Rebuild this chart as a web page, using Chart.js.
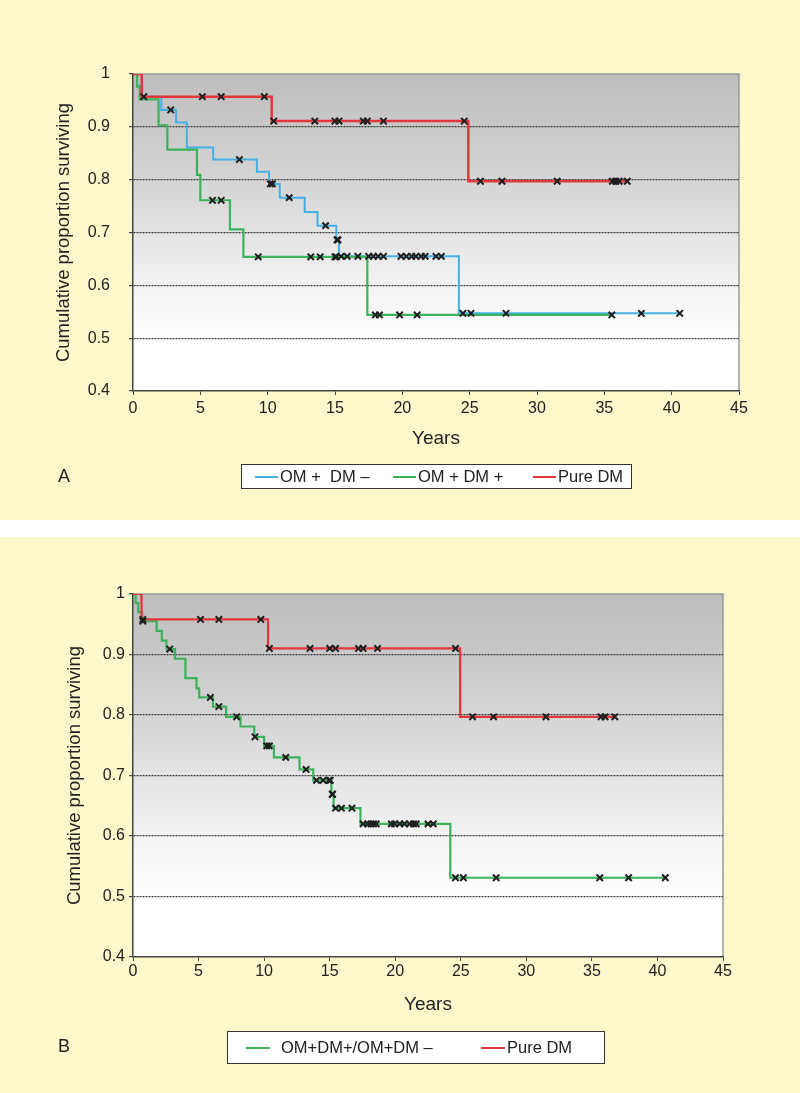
<!DOCTYPE html>
<html>
<head>
<meta charset="utf-8">
<script src="https://cdn.jsdelivr.net/npm/chart.js@4.4.1/dist/chart.umd.min.js"></script>
<style>
  body { margin: 0; width: 800px; height: 1093px; background: #fff; position: relative;
         font-family: 'Liberation Sans', Arial, sans-serif; color: #222; }
  .panel { position: absolute; left: 0; width: 800px; background: #fbf8cc; }
  #panelA { top: 0; height: 520px; }
  #panelB { top: 537px; height: 556px; }
  .panel canvas { position: absolute; left: 0; top: 0; }
  .tag { position: absolute; left: 58px; font-size: 18px; line-height: 18px; }
  .legend { position: absolute; background: #fff; border: 1px solid #333; box-sizing: border-box; }
  .legend .item { position: absolute; top: 0; height: 100%; display: flex; align-items: center;
                  font-size: 16.5px; white-space: pre; }
  .legend .swatch { display: inline-block; height: 2px; margin-right: 2px; }
</style>
</head>
<body>
<div class="panel" id="panelA"><canvas id="chartA" width="800" height="520"></canvas></div>
<div class="panel" id="panelB"><canvas id="chartB" width="800" height="556"></canvas></div>
<script>
// ─── axis ticks ────────────────────────────────────────────────
const yearTicks = [0, 5, 10, 15, 20, 25, 30, 35, 40, 45];
const survivalTicks = [0.4, 0.5, 0.6, 0.7, 0.8, 0.9, 1];

// ─── panel A: OM + DM – ────────────────────────────────────────
const aOmDmNegLabel = 'OM +\u00a0 DM –';
const aOmDmNegTimes = [0.3, 0.6, 2.1, 3.2, 4.0, 5.95, 9.2, 10.1, 10.9, 12.75, 13.7, 15.1, 15.3, 24.2];
const aOmDmNegSurv = [0.978, 0.957, 0.932, 0.908, 0.861, 0.838, 0.815, 0.792, 0.766, 0.739, 0.713, 0.686, 0.655, 0.547];
const aOmDmNegCensored = [2.8, 7.9, 10.2, 10.35, 11.6, 14.3, 15.15, 15.22, 15.45, 15.9, 16.7, 17.5, 17.85, 18.2, 18.6,
  19.9, 20.3, 20.7, 21.0, 21.4, 21.7, 22.5, 22.9, 24.5, 25.1, 27.7, 37.75, 40.6];

// ─── panel A: OM + DM + ────────────────────────────────────────
const aOmDmPosLabel = 'OM + DM +';
const aOmDmPosTimes = [0.3, 0.5, 1.9, 2.55, 4.75, 5.0, 7.2, 8.2, 17.4];
const aOmDmPosSurv = [0.976, 0.952, 0.903, 0.857, 0.809, 0.761, 0.706, 0.654, 0.544];
const aOmDmPosCensored = [5.9, 6.55, 9.3, 13.2, 13.9, 15.0, 15.1, 18.0, 18.3, 19.8, 21.1, 35.55];

// ─── panel A: Pure DM ──────────────────────────────────────────
const aPureDmLabel = 'Pure DM';
const aPureDmTimes = [0.65, 10.3, 24.9];
const aPureDmSurv = [0.957, 0.911, 0.797];
const aPureDmCensored = [0.8, 5.15, 6.55, 9.75, 10.45, 13.5, 15.0, 15.3, 17.1, 17.4, 18.6, 24.6,
  25.8, 27.4, 31.5, 35.6, 35.85, 36.1, 36.7];

// ─── panel B: OM+DM+/OM+DM – ───────────────────────────────────
const bOmLabel = 'OM+DM+/OM+DM –';
const bOmTimes = [0.2, 0.4, 0.7, 1.8, 2.2, 2.55, 3.2, 4.0, 4.85, 5.05, 6.1, 7.1, 8.2, 9.25, 10.0, 10.75,
  12.7, 13.75, 15.13, 15.3, 17.35, 24.2];
const bOmSurv = [0.985, 0.97, 0.955, 0.939, 0.923, 0.909, 0.893, 0.861, 0.844, 0.829, 0.814, 0.797, 0.781,
  0.764, 0.749, 0.730, 0.710, 0.692, 0.669, 0.646, 0.620, 0.531];
const bOmCensored = [0.75, 2.8, 5.9, 6.55, 7.9, 9.3, 10.2, 10.4, 11.65, 13.2, 14.0, 14.5, 14.95, 15.05, 15.2, 15.22,
  15.45, 15.9, 16.7, 17.55, 17.9, 18.15, 18.35, 18.55, 19.7, 19.95, 20.35, 20.7, 21.1, 21.4, 21.6,
  22.5, 22.9, 24.6, 25.2, 27.7, 35.6, 37.8, 40.6];

// ─── panel B: Pure DM ──────────────────────────────────────────
const bPureDmLabel = 'Pure DM';
const bPureDmTimes = [0.65, 10.3, 24.95];
const bPureDmSurv = [0.958, 0.910, 0.797];
const bPureDmCensored = [0.75, 5.15, 6.55, 9.75, 10.4, 13.5, 15.0, 15.45, 17.2, 17.55, 18.65, 24.6,
  25.9, 27.5, 31.5, 35.7, 36.0, 36.75];

const BLUE = '#45b1e3';
const GREEN = '#3bb35b';
const RED = '#e2363c';
const FONT = "'Liberation Sans', Arial, sans-serif";

// ─── helpers ───────────────────────────────────────────────────
function survivalAt(times, surv, t) {
  let s = 1;
  times.forEach((et, i) => { if (et <= t) s = surv[i]; });
  return s;
}

function kmDatasets(label, times, surv, censored, color, width) {
  const end = Math.max(times[times.length - 1], ...censored);
  const line = [{ x: 0, y: 1 }]
    .concat(times.map((t, i) => ({ x: t, y: surv[i] })))
    .concat([{ x: end, y: surv[surv.length - 1] }]);
  return [
    {
      label,
      data: line,
      showLine: true,
      stepped: 'before',
      borderColor: color,
      borderWidth: width,
      pointRadius: 0,
      order: 2,
    },
    {
      label: label + ' censored',
      data: censored.map(t => ({ x: t, y: survivalAt(times, surv, t) })),
      pointStyle: 'crossRot',
      pointRadius: 4.5,
      borderColor: '#1e1e1e',
      backgroundColor: '#1e1e1e',
      pointBorderWidth: 2,
      order: 1,
    },
  ];
}

// gradient plot background + grey frame on top/right
const plotBackground = {
  id: 'plotBackground',
  beforeDraw(chart) {
    const { ctx, chartArea: a, scales } = chart;
    const y50 = scales.y.getPixelForValue(0.5);
    const g = ctx.createLinearGradient(0, a.top, 0, y50);
    g.addColorStop(0, '#bdbdbd');
    g.addColorStop(0.45, '#d8d8d8');
    g.addColorStop(0.8, '#f3f3f3');
    g.addColorStop(1, '#ffffff');
    ctx.save();
    ctx.fillStyle = g;
    ctx.fillRect(a.left, a.top, a.right - a.left, a.bottom - a.top);
    ctx.strokeStyle = '#9a9a9a';
    ctx.lineWidth = 1.5;
    ctx.beginPath();
    ctx.moveTo(a.left, a.top);
    ctx.lineTo(a.right, a.top);
    ctx.lineTo(a.right, a.bottom);
    ctx.stroke();
    ctx.restore();
  },
};

function makeChart(canvasId, datasets, geo) {
  const ctx = document.getElementById(canvasId);
  return new Chart(ctx, {
    type: 'scatter',
    data: { datasets },
    options: {
      responsive: false,
      animation: false,
      layout: { padding: { left: 0, top: geo.top, right: geo.right, bottom: geo.bottom } },
      plugins: { legend: { display: false }, tooltip: { enabled: false } },
      scales: {
        x: {
          type: 'linear',
          min: 0,
          max: 45,
          afterBuildTicks: (s) => { s.ticks = yearTicks.map(v => ({ value: v })); },
          afterFit: (s) => { s.height = 59; },
          grid: { drawOnChartArea: false, drawTicks: true, tickLength: 4, tickColor: '#444' },
          border: { color: '#444', width: 1.5 },
          ticks: { color: '#222', font: { family: FONT, size: 16 }, padding: geo.xTickPad, maxRotation: 0 },
          title: { display: true, text: 'Years', color: '#222', font: { family: FONT, size: 19 }, padding: 0 },
        },
        y: {
          type: 'linear',
          min: 0.4,
          max: 1,
          afterBuildTicks: (s) => { s.ticks = survivalTicks.map(v => ({ value: v })); },
          afterFit: (s) => { s.width = 133; },
          grid: {
            color: (c) => (c.tick && c.tick.value > 0.45 && c.tick.value < 0.95 ? '#3a3a3a' : 'rgba(0,0,0,0)'),
            lineWidth: 1.2,
            tickLength: 4,
            tickColor: '#444',
          },
          border: { color: '#444', width: 1.5, dash: [2, 1] },
          ticks: {
            color: '#222',
            font: { family: FONT, size: 16 },
            padding: geo.yTickPad,
            callback: (v) => (v === 1 ? '1' : v.toFixed(1)),
          },
          title: {
            display: true,
            text: 'Cumulative proportion surviving',
            color: '#222',
            font: { family: FONT, size: 18.5 },
            padding: { top: geo.yTitlePad, bottom: 0 },
          },
        },
      },
    },
    plugins: [plotBackground],
  });
}

// ─── legends and panel tags (HTML) ─────────────────────────────
function addLegend(panelId, tag, tagTop, box, entries) {
  const panel = document.getElementById(panelId);
  const t = document.createElement('div');
  t.className = 'tag';
  t.style.top = tagTop + 'px';
  t.textContent = tag;
  panel.appendChild(t);

  const lg = document.createElement('div');
  lg.className = 'legend';
  Object.assign(lg.style, { left: box.left + 'px', top: box.top + 'px', width: box.width + 'px', height: box.height + 'px' });
  entries.forEach((e) => {
    const it = document.createElement('div');
    it.className = 'item';
    it.style.left = e.at + 'px';
    const sw = document.createElement('span');
    sw.className = 'swatch';
    sw.style.width = box.swatch + 'px';
    sw.style.background = e.color;
    sw.style.marginRight = e.gap + 'px';
    const tx = document.createElement('span');
    tx.textContent = e.label;
    it.appendChild(sw);
    it.appendChild(tx);
    lg.appendChild(it);
  });
  panel.appendChild(lg);
}

makeChart('chartA', [
  ...kmDatasets(aPureDmLabel, aPureDmTimes, aPureDmSurv, aPureDmCensored, RED, 2.5),
  ...kmDatasets(aOmDmPosLabel, aOmDmPosTimes, aOmDmPosSurv, aOmDmPosCensored, GREEN, 2.2),
  ...kmDatasets(aOmDmNegLabel, aOmDmNegTimes, aOmDmNegSurv, aOmDmNegCensored, BLUE, 2),
], { top: 74, right: 61, bottom: 70, xTickPad: 4, yTickPad: 19, yTitlePad: 53 });

makeChart('chartB', [
  ...kmDatasets(bPureDmLabel, bPureDmTimes, bPureDmSurv, bPureDmCensored, RED, 2.2),
  ...kmDatasets(bOmLabel, bOmTimes, bOmSurv, bOmCensored, GREEN, 2.2),
], { top: 57, right: 77, bottom: 77, xTickPad: 1, yTickPad: 4, yTitlePad: 64 });

addLegend('panelA', 'A', 467, { left: 241, top: 464, width: 391, height: 25, swatch: 23 }, [
  { label: aOmDmNegLabel, color: BLUE, at: 13, gap: 2 },
  { label: aOmDmPosLabel, color: GREEN, at: 151, gap: 2 },
  { label: aPureDmLabel, color: RED, at: 291, gap: 2 },
]);
addLegend('panelB', 'B', 1046 - 537 - 9, { left: 227, top: 1031 - 537, width: 378, height: 33, swatch: 24 }, [
  { label: bOmLabel, color: GREEN, at: 18, gap: 11 },
  { label: bPureDmLabel, color: RED, at: 253, gap: 2 },
]);
</script>
</body>
</html>
